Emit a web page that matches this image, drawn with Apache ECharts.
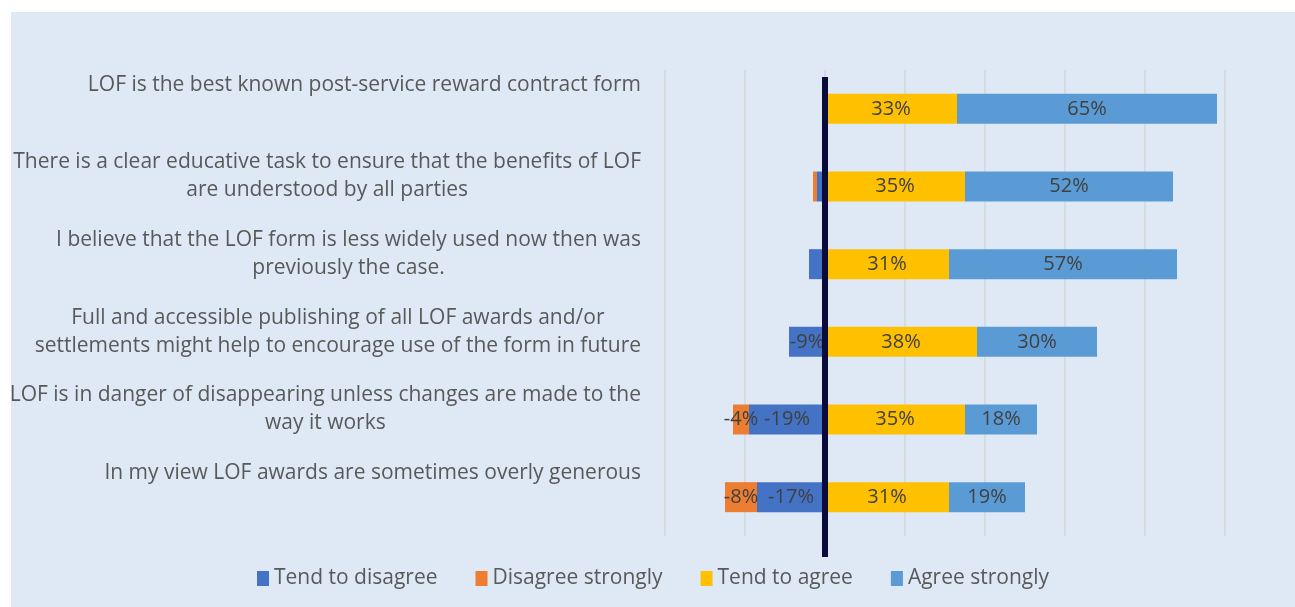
<!DOCTYPE html>
<html>
<head>
<meta charset="utf-8">
<script src="https://cdn.jsdelivr.net/npm/echarts@6/dist/echarts.min.js"></script>
<style>
  html, body { margin: 0; padding: 0; background: #ffffff; width: 1295px; height: 607px; overflow: hidden; }
  #chart { position: absolute; left: 11px; top: 12px; width: 1284px; height: 595px; background: #dee9f5; }
</style>
</head>
<body>
<div id="chart"></div>
<script>
const categories = [
  'LOF is the best known post-service reward contract form',
  'There is a clear educative task to ensure that the benefits of LOF\nare understood by all parties',
  'I believe that the LOF form is less widely used now then was\npreviously the case.',
  'Full and accessible publishing of all LOF awards and/or\nsettlements might help to encourage use of the form in future',
  'LOF is in danger of disappearing unless changes are made to the\nway it works',
  'In my view LOF awards are sometimes overly generous'
];
const seriesNames = ['Tend to disagree', 'Disagree strongly', 'Tend to agree', 'Agree strongly'];
const tendToDisagree = [0, -2, -4, -9, -19, -17];
const disagreeStrongly = [0, -1, 0, 0, -4, -8];
const tendToAgree = [33, 35, 31, 38, 35, 31];
const agreeStrongly = [65, 52, 57, 30, 18, 19];
const negLabelVisible = [false, false, false, true, true, true];
const axisTicks = [-40, -20, 0, 20, 40, 60, 80, 100];
const zeroLine = [0];

const colors = ['#4472c4', '#ed7d31', '#ffc000', '#5b9bd5'];
const FONT = '"Open Sans", "Noto Sans", sans-serif';
const TXT = '#595959';

function barData(values, negative) {
  return values.map((v, i) => ({
    value: v,
    label: { show: v !== 0 && (!negative || negLabelVisible[i]) }
  }));
}

const labelCommon = {
  position: 'inside',
  formatter: p => p.value + '%',
  fontFamily: FONT,
  fontSize: 20,
  color: '#404040'
};

function makeBar(name, values, color, negative) {
  return {
    name: name,
    type: 'bar',
    stack: 'total',
    xAxisIndex: 0,
    yAxisIndex: 0,
    barWidth: 30,
    itemStyle: { color: color },
    label: labelCommon,
    emphasis: { disabled: true },
    data: barData(values, negative)
  };
}

const chart = echarts.init(document.getElementById('chart'), null, { renderer: 'canvas' });
chart.setOption({
  animation: false,
  backgroundColor: '#dee9f5',
  textStyle: { fontFamily: FONT },
  legend: {
    bottom: 13,
    left: 'center',
    itemWidth: 12,
    itemHeight: 15,
    itemGap: 38,
    icon: 'rect',
    textStyle: { fontFamily: FONT, fontSize: 21, color: TXT },
    data: seriesNames
  },
  grid: [
    { left: 654, right: 70, top: 58, bottom: 71, containLabel: false, outerBoundsMode: 'none' },
    { left: 654, right: 70, top: 65, bottom: 50, containLabel: false, outerBoundsMode: 'none' }
  ],
  xAxis: [
    {
      type: 'value', gridIndex: 0,
      min: axisTicks[0], max: axisTicks[axisTicks.length - 1], interval: 20,
      axisLabel: { show: false },
      axisLine: { show: false },
      axisTick: { show: false },
      splitLine: { show: true, lineStyle: { color: '#d4d6d9', width: 1.5 } }
    },
    {
      type: 'value', gridIndex: 1,
      min: axisTicks[0], max: axisTicks[axisTicks.length - 1],
      show: false
    }
  ],
  yAxis: [
    {
      type: 'category', gridIndex: 0,
      inverse: true,
      data: categories,
      axisLine: { show: false },
      axisTick: { show: false },
      splitLine: { show: false },
      axisLabel: {
        margin: 24,
        align: 'right',
        padding: [8, 0, 0, 0],
        formatter: v => {
          const lines = v.split('\n');
          while (lines.length < 3) lines.push(' ');
          return lines.map(l => '{c|' + l + '}').join('\n');
        },
        rich: {
          c: { align: 'center', fontFamily: FONT, fontSize: 21, lineHeight: 28, color: TXT }
        }
      }
    },
    { type: 'value', gridIndex: 1, min: 0, max: 1, show: false }
  ],
  series: [
    makeBar(seriesNames[0], tendToDisagree, colors[0], true),
    makeBar(seriesNames[1], disagreeStrongly, colors[1], true),
    makeBar(seriesNames[2], tendToAgree, colors[2], false),
    makeBar(seriesNames[3], agreeStrongly, colors[3], false),
    {
      type: 'line',
      xAxisIndex: 1,
      yAxisIndex: 1,
      data: [],
      z: 10,
      markLine: {
        silent: true,
        symbol: 'none',
        label: { show: false },
        lineStyle: { color: '#0b0b3b', width: 6, type: 'solid' },
        data: zeroLine.map(x => ({ xAxis: x }))
      }
    }
  ]
});
</script>
</body>
</html>
